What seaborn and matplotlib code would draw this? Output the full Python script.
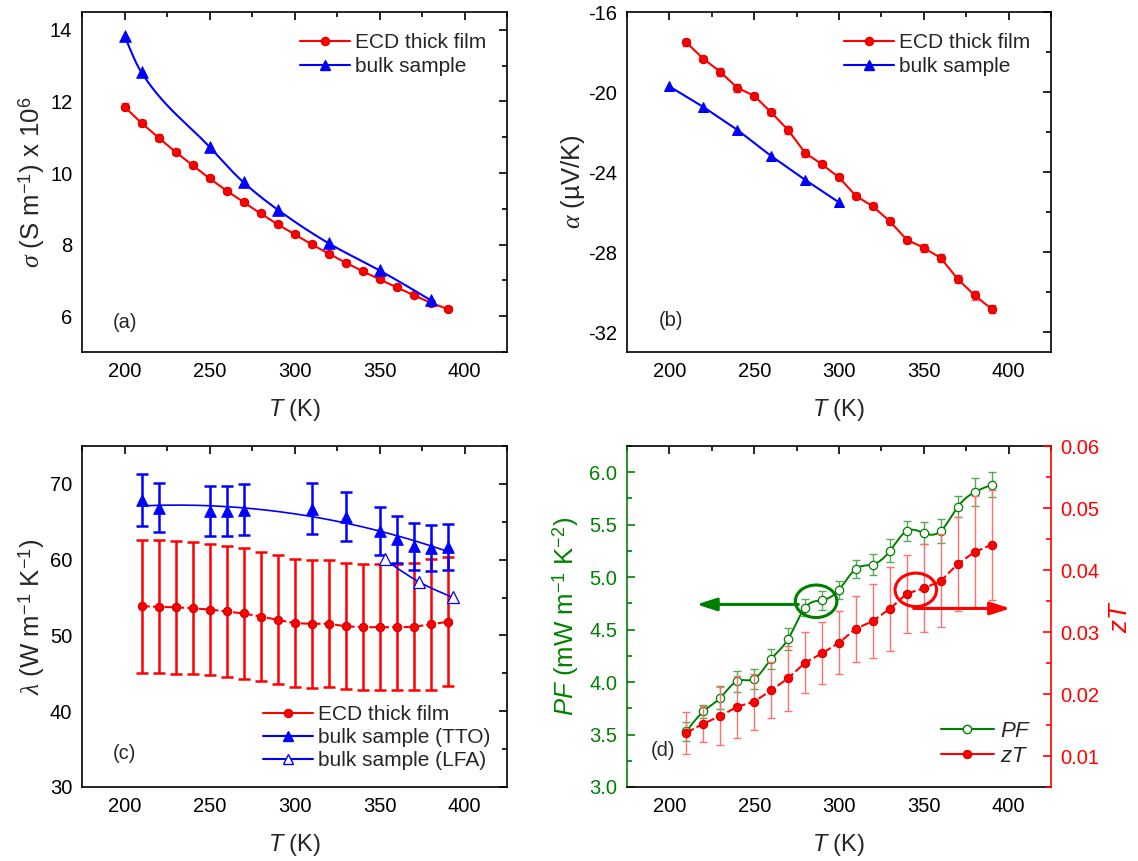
import numpy as np
import pandas as pd
import matplotlib
matplotlib.use("Agg")
import matplotlib.pyplot as plt
import seaborn as sns
from matplotlib.patches import Ellipse
from matplotlib.lines import Line2D
from matplotlib.ticker import MultipleLocator, FormatStrFormatter

# ---------------- data ----------------
# (a) electrical conductivity
T_a_film = [200, 210, 220, 230, 240, 250, 260, 270, 280, 290, 300, 310, 320, 330, 340, 350, 360, 370, 380, 390]
sigma_film = [11.85, 11.40, 10.99, 10.59, 10.22, 9.85, 9.51, 9.19, 8.87, 8.57, 8.29, 8.01, 7.75, 7.50, 7.26, 7.03, 6.81, 6.59, 6.38, 6.20]
sigma_film_err = [0.10, 0.09, 0.09, 0.08, 0.08, 0.08, 0.08, 0.07, 0.07, 0.07, 0.07, 0.07, 0.06, 0.06, 0.06, 0.06, 0.06, 0.06, 0.06, 0.05]
T_a_bulk = [200, 210, 250, 270, 290, 320, 350, 380]
sigma_bulk = [13.83, 12.81, 10.73, 9.74, 8.98, 8.04, 7.28, 6.45]

# (b) Seebeck coefficient
T_b_film = [210, 220, 230, 240, 250, 260, 270, 280, 290, 300, 310, 320, 330, 340, 350, 360, 370, 380, 390]
alpha_film = [-17.52, -18.34, -18.99, -19.79, -20.19, -21.02, -21.90, -23.04, -23.62, -24.27,
              -25.20, -25.72, -26.47, -27.39, -27.79, -28.30, -29.35, -30.17, -30.85]
alpha_film_err = [0.18, 0.12, 0.2, 0.2, 0.15, 0.15, 0.2, 0.2, 0.15, 0.15,
                  0.15, 0.15, 0.18, 0.15, 0.2, 0.2, 0.2, 0.22, 0.22]
T_b_bulk = [200, 220, 240, 260, 280, 300]
alpha_bulk = [-19.72, -20.75, -21.89, -23.20, -24.39, -25.52]

# (c) thermal conductivity
T_c_film = [210, 220, 230, 240, 250, 260, 270, 280, 290, 300, 310, 320, 330, 340, 350, 360, 370, 380, 390]
lam_film = [53.86, 53.78, 53.72, 53.59, 53.42, 53.16, 52.90, 52.50, 52.07, 51.62,
            51.54, 51.54, 51.22, 51.09, 51.09, 51.09, 51.14, 51.45, 51.80]
lam_film_err = [8.80, 8.75, 8.75, 8.73, 8.68, 8.66, 8.62, 8.55, 8.51, 8.42,
                8.44, 8.38, 8.31, 8.33, 8.33, 8.33, 8.38, 8.60, 8.49]
T_c_tto = [210, 220, 250, 260, 270, 310, 330, 350, 360, 370, 380, 390]
lam_tto = [67.86, 66.88, 66.45, 66.45, 66.62, 66.75, 65.66, 63.82, 62.67, 61.75, 61.54, 61.71]
lam_tto_err = [3.40, 3.29, 3.31, 3.31, 3.33, 3.36, 3.25, 3.16, 3.09, 3.07, 3.05, 3.03]
T_c_lfa = [353, 373, 393]
lam_lfa = [60.04, 57.10, 55.04]

# (d) power factor and zT
T_d = [210, 220, 230, 240, 250, 260, 270, 280, 290, 300, 310, 320, 330, 340, 350, 360, 370, 380, 390]
pf = [3.53, 3.72, 3.85, 4.01, 4.03, 4.22, 4.41, 4.71, 4.78, 4.88, 5.08, 5.12, 5.25, 5.44, 5.42, 5.44, 5.67, 5.81, 5.88]
pf_err = [0.09, 0.065, 0.11, 0.10, 0.092, 0.092, 0.106, 0.084, 0.089, 0.085, 0.084, 0.098, 0.109, 0.098, 0.106, 0.111, 0.101, 0.135, 0.12]
zt = [0.01376, 0.01521, 0.01645, 0.01795, 0.01876, 0.0206, 0.02253, 0.02505, 0.02656, 0.02827,
      0.03053, 0.03177, 0.03376, 0.03618, 0.03705, 0.03823, 0.04097, 0.0429, 0.04408]
zt_err = [0.0034, 0.0029, 0.0047, 0.0050, 0.0045, 0.0045, 0.0052, 0.0049, 0.0050, 0.0051,
          0.0053, 0.0059, 0.0068, 0.0063, 0.0071, 0.0075, 0.0076, 0.0091, 0.0089]

# ---------------- style ----------------
sns.set_theme(style="white")
plt.rcParams.update({
    "font.family": ["Liberation Sans", "DejaVu Sans"],
    "mathtext.fontset": "custom",
    "mathtext.rm": "Liberation Sans",
    "mathtext.it": "Liberation Serif:italic",
    "mathtext.sf": "Liberation Sans:italic",
    "axes.unicode_minus": False,
    "axes.edgecolor": "black",
    "axes.linewidth": 1.2,
})

RED = "#ff0000"
BLUE = "#0000ff"
GREEN = "#008000"
TICK_FS = 14.5
XLAB_FS = 17
YLAB_FS = 18.5
LEG_FS = 15


def spline(x, y, n=300):
    """Natural cubic spline connector (Origin-style smooth line)."""
    x = np.asarray(x, float)
    y = np.asarray(y, float)
    m = len(x)
    h = np.diff(x)
    A = np.zeros((m, m))
    b = np.zeros(m)
    A[0, 0] = A[-1, -1] = 1
    for i in range(1, m - 1):
        A[i, i - 1] = h[i - 1]
        A[i, i] = 2 * (h[i - 1] + h[i])
        A[i, i + 1] = h[i]
        b[i] = 3 * ((y[i + 1] - y[i]) / h[i] - (y[i] - y[i - 1]) / h[i - 1])
    c = np.linalg.solve(A, b)
    xs = np.linspace(x[0], x[-1], n)
    idx = np.clip(np.searchsorted(x, xs) - 1, 0, m - 2)
    dx = xs - x[idx]
    bc = (y[idx + 1] - y[idx]) / h[idx] - h[idx] * (2 * c[idx] + c[idx + 1]) / 3
    dc = (c[idx + 1] - c[idx]) / (3 * h[idx])
    return xs, y[idx] + bc * dx + c[idx] * dx ** 2 + dc * dx ** 3


def pchip(x, y, n=300):
    """Shape-preserving piecewise cubic Hermite connector."""
    x = np.asarray(x, float)
    y = np.asarray(y, float)
    m = len(x)
    h = np.diff(x)
    delta = np.diff(y) / h
    d = np.zeros(m)
    for k in range(1, m - 1):
        if delta[k - 1] * delta[k] > 0:
            w1 = 2 * h[k] + h[k - 1]
            w2 = h[k] + 2 * h[k - 1]
            d[k] = (w1 + w2) / (w1 / delta[k - 1] + w2 / delta[k])
    d[0] = ((2 * h[0] + h[1]) * delta[0] - h[0] * delta[1]) / (h[0] + h[1])
    if np.sign(d[0]) != np.sign(delta[0]):
        d[0] = 0
    d[-1] = ((2 * h[-1] + h[-2]) * delta[-1] - h[-1] * delta[-2]) / (h[-1] + h[-2])
    if np.sign(d[-1]) != np.sign(delta[-1]):
        d[-1] = 0
    xs = np.linspace(x[0], x[-1], n)
    idx = np.clip(np.searchsorted(x, xs) - 1, 0, m - 2)
    t = (xs - x[idx]) / h[idx]
    h00 = 2 * t ** 3 - 3 * t ** 2 + 1
    h10 = t ** 3 - 2 * t ** 2 + t
    h01 = -2 * t ** 3 + 3 * t ** 2
    h11 = t ** 3 - t ** 2
    ys = h00 * y[idx] + h10 * h[idx] * d[idx] + h01 * y[idx + 1] + h11 * h[idx] * d[idx + 1]
    return xs, ys


def style_axes(ax, ymaj, ymin):
    ax.set_xlim(175, 425)
    ax.xaxis.set_major_locator(MultipleLocator(50))
    ax.xaxis.set_minor_locator(MultipleLocator(25))
    ax.yaxis.set_major_locator(MultipleLocator(ymaj))
    ax.yaxis.set_minor_locator(MultipleLocator(ymin))
    ax.tick_params(which="both", direction="in", top=True, right=True,
                   width=1.2, labelsize=TICK_FS, pad=7, colors="black")
    ax.tick_params(which="major", length=6)
    ax.tick_params(which="minor", length=3.5)
    for s in ax.spines.values():
        s.set_visible(True)
        s.set_color("black")
        s.set_linewidth(1.2)
    ax.set_xlabel(r"$\mathsf{T}$ (K)", fontsize=XLAB_FS, labelpad=12)


fig = plt.figure(figsize=(11.38, 8.61), dpi=100)
W, H = 1138, 861
def pos(x0, y0, x1, y1):
    return [x0 / W, 1 - y1 / H, (x1 - x0) / W, (y1 - y0) / H]

ax_a = fig.add_axes(pos(82, 12, 507, 352))
ax_b = fig.add_axes(pos(627, 12, 1051, 352))
ax_c = fig.add_axes(pos(82, 446, 507, 787))
ax_d = fig.add_axes(pos(627, 446, 1051, 787))

ball = dict(marker="o", markersize=6, markerfacecolor=RED, markeredgecolor="#d00000", markeredgewidth=0.8)
tri = dict(marker="^", markersize=7.5, markerfacecolor=BLUE, markeredgecolor=BLUE)

# ---------------- (a) ----------------
ax = ax_a
ax.errorbar(T_a_film, sigma_film, yerr=sigma_film_err, fmt="none", ecolor="#ff6060",
            elinewidth=1, capsize=3, zorder=2)
sns.lineplot(x=T_a_film, y=sigma_film, ax=ax, color=RED, lw=1.5, **ball, zorder=3)
xs, ys = pchip(T_a_bulk, sigma_bulk)
sns.lineplot(x=xs, y=ys, ax=ax, color=BLUE, lw=1.5, sort=False, estimator=None, zorder=3)
sns.scatterplot(x=T_a_bulk, y=sigma_bulk, ax=ax, marker="^", s=70, color=BLUE, edgecolor=BLUE, zorder=4)
style_axes(ax, 2, 1)
ax.set_ylim(5, 14.5)
ax.set_ylabel(r"$\sigma$ (S m$^{-1}$) x 10$^{6}$", fontsize=YLAB_FS, labelpad=2)
ax.text(0.101, 0.086, "(a)", transform=ax.transAxes, fontsize=14.5, ha="center", va="center")
h_film = Line2D([], [], color=RED, lw=1.5, **ball)
h_bulk = Line2D([], [], color=BLUE, lw=1.5, **tri)
ax.legend([h_film, h_bulk], ["ECD thick film", "bulk sample"], loc="upper right",
          bbox_to_anchor=(1.0, 1.0), frameon=False, fontsize=LEG_FS, handlelength=2.4,
          handletextpad=0.25, labelspacing=0.25, borderaxespad=0.6)

# ---------------- (b) ----------------
ax = ax_b
ax.errorbar(T_b_film, alpha_film, yerr=alpha_film_err, fmt="none", ecolor="#ff6060",
            elinewidth=1, capsize=3, zorder=2)
sns.lineplot(x=T_b_film, y=alpha_film, ax=ax, color=RED, lw=1.5, **ball, zorder=3)
sns.lineplot(x=T_b_bulk, y=alpha_bulk, ax=ax, color=BLUE, lw=1.5, **tri, zorder=3)
style_axes(ax, 4, 2)
ax.set_ylim(-33, -16)
ax.yaxis.set_major_formatter(FormatStrFormatter("%d"))
ax.set_ylabel(r"$\alpha$ (µV/K)", fontsize=YLAB_FS, labelpad=1)
ax.text(0.103, 0.094, "(b)", transform=ax.transAxes, fontsize=14.5, ha="center", va="center")
ax.legend([h_film, h_bulk], ["ECD thick film", "bulk sample"], loc="upper right",
          bbox_to_anchor=(1.0, 1.0), frameon=False, fontsize=LEG_FS, handlelength=2.4,
          handletextpad=0.25, labelspacing=0.25, borderaxespad=0.6)

# ---------------- (c) ----------------
ax = ax_c
ax.errorbar(T_c_film, lam_film, yerr=lam_film_err, fmt="none", ecolor=RED,
            elinewidth=1.8, capsize=4, capthick=1.8, zorder=2)
sns.lineplot(x=T_c_film, y=lam_film, ax=ax, color=RED, lw=1.5, dashes=False, **ball, zorder=3)
ax.lines[-1].set_linestyle((0, (4, 1.5)))
ax.errorbar(T_c_tto, lam_tto, yerr=lam_tto_err, fmt="none", ecolor=BLUE,
            elinewidth=1.8, capsize=4, capthick=1.8, zorder=2)
fit = np.polyfit(T_c_tto, lam_tto, 2)
xf = np.linspace(T_c_tto[0], T_c_tto[-1], 200)
sns.lineplot(x=xf, y=np.polyval(fit, xf), ax=ax, color=BLUE, lw=1.2, sort=False, estimator=None, zorder=3)
sns.scatterplot(x=T_c_tto, y=lam_tto, ax=ax, marker="^", s=70, color=BLUE, edgecolor=BLUE, zorder=4)
xs, ys = spline(T_c_lfa, lam_lfa)
sns.lineplot(x=xs, y=ys, ax=ax, color=BLUE, lw=1.2, sort=False, estimator=None, zorder=3)
ax.plot(T_c_lfa, lam_lfa, ls="none", marker="^", ms=8, mfc="white", mec=BLUE, mew=0.9, zorder=4)
style_axes(ax, 10, 5)
ax.set_ylim(30, 75)
ax.set_ylabel(r"$\lambda$ (W m$^{-1}$ K$^{-1}$)", fontsize=YLAB_FS, labelpad=2)
ax.text(0.101, 0.099, "(c)", transform=ax.transAxes, fontsize=14.5, ha="center", va="center")
h_lfa = Line2D([], [], color=BLUE, lw=1.5, marker="^", markersize=7.5, markerfacecolor="white",
               markeredgecolor=BLUE)
ax.legend([h_film, h_bulk, h_lfa], ["ECD thick film", "bulk sample (TTO)", "bulk sample (LFA)"],
          loc="lower right", bbox_to_anchor=(1.0, 0.0), frameon=False, fontsize=LEG_FS,
          handlelength=2.4, handletextpad=0.25, labelspacing=0.2, borderaxespad=0.4)

# ---------------- (d) ----------------
ax = ax_d
ax2 = ax.twinx()
ax.errorbar(T_d, pf, yerr=pf_err, fmt="none", ecolor="#55aa55", elinewidth=1, capsize=3, zorder=2)
xs, ys = spline(T_d, pf)
sns.lineplot(x=xs, y=ys, ax=ax, color=GREEN, lw=1.4, sort=False, estimator=None, zorder=3)
ax.plot(T_d, pf, ls="none", marker="o", ms=6, mfc="white", mec=GREEN, mew=0.9, zorder=4)
ax2.errorbar(T_d, zt, yerr=zt_err, fmt="none", ecolor="#ff7070", elinewidth=1, capsize=3, zorder=2)
sns.lineplot(x=T_d, y=zt, ax=ax2, color=RED, lw=1.5, **ball, zorder=3)
ax2.lines[-1].set_linestyle((0, (4, 1.5)))
style_axes(ax, 0.5, 0.25)
ax.set_ylim(3.0, 6.25)
ax.yaxis.set_major_formatter(FormatStrFormatter("%.1f"))
ax.tick_params(axis="y", which="both", right=False, colors=GREEN)
ax.spines["left"].set_color(GREEN)
ax.spines["right"].set_visible(False)
ax.set_ylabel(r"$\mathsf{PF}$ (mW m$^{-1}$ K$^{-2}$)", fontsize=YLAB_FS, color=GREEN, labelpad=6)
ax2.set_ylim(0.005, 0.06)
ax2.yaxis.set_major_locator(MultipleLocator(0.01))
ax2.yaxis.set_minor_locator(MultipleLocator(0.005))
ax2.yaxis.set_major_formatter(FormatStrFormatter("%.2f"))
ax2.tick_params(axis="y", which="both", direction="in", width=1.2, labelsize=TICK_FS, pad=7,
                colors=RED, left=False, right=True)
ax2.tick_params(axis="y", which="major", length=6)
ax2.tick_params(axis="y", which="minor", length=3.5)
for k in ["left", "top", "bottom"]:
    ax2.spines[k].set_visible(False)
ax2.spines["right"].set_color(RED)
ax2.spines["right"].set_linewidth(1.2)
ax2.set_ylabel(r"$\mathsf{zT}$", fontsize=YLAB_FS, color=RED, labelpad=6)
ax2.grid(False)

ax.add_patch(Ellipse((286.5, 4.77), 24.5, 0.31, fill=False, ec=GREEN, lw=2.2, zorder=5))
ax.annotate("", xy=(216, 4.74), xytext=(276, 4.74),
            arrowprops=dict(arrowstyle="-|>,head_length=1.0,head_width=0.32", color=GREEN, lw=2.2,
                            shrinkA=0, shrinkB=0), zorder=5)
ax2.add_patch(Ellipse((345.3, 0.0368), 24.5, 0.0054, fill=False, ec=RED, lw=2.2, zorder=5))
ax2.annotate("", xy=(401, 0.0338), xytext=(344, 0.0338),
             arrowprops=dict(arrowstyle="-|>,head_length=1.0,head_width=0.32", color=RED, lw=2.2,
                             shrinkA=0, shrinkB=0), zorder=5)
ax.text(0.085, 0.108, "(d)", transform=ax.transAxes, fontsize=14.5, ha="center", va="center")
h_pf = Line2D([], [], color=GREEN, lw=1.5, marker="o", markersize=6, markerfacecolor="white",
              markeredgecolor=GREEN)
ax2.legend([h_pf, h_film], [r"$\mathsf{PF}$", r"$\mathsf{zT}$"], loc="lower right",
           bbox_to_anchor=(1.0, 0.0), frameon=False, fontsize=16, handlelength=2.4,
           handletextpad=0.25, labelspacing=0.2, borderaxespad=0.5)

for a in [ax_a, ax_b, ax_c, ax_d]:
    a.grid(False)

fig.savefig("out.png", dpi=100)
